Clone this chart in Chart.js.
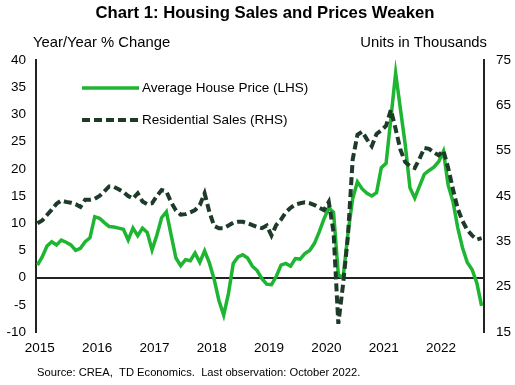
<!DOCTYPE html>
<html>
<head>
<meta charset="utf-8">
<script src="https://cdn.jsdelivr.net/npm/chart.js@4.4.0/dist/chart.umd.min.js"></script>
<style>
  body { margin: 0; background: #fff; }
  #wrap { width: 515px; height: 385px; position: relative; }
</style>
</head>
<body>
<div id="wrap"><canvas id="chart"></canvas></div>
<script>
// monthly, Jan 2015 .. Oct 2022
const years = ["2015", "2016", "2017", "2018", "2019", "2020", "2021", "2022"];

// Average house price, y/y % change (LHS)
const price = [
  2.3, 3.8, 5.8, 6.6, 6.0, 6.9, 6.5, 6.0, 5.0, 5.4, 6.6, 7.3,
  11.2, 10.9, 10.1, 9.4, 9.3, 9.1, 8.9, 6.9, 9.1, 7.7, 9.1, 8.3,
  5.1, 7.8, 11.0, 12.1, 7.8, 3.6, 2.2, 3.3, 3.1, 4.5, 2.8, 4.9,
  2.7, -0.3, -4.2, -6.9, -2.9, 2.6, 3.8, 4.2, 3.6, 2.1, 1.3, -0.2,
  -1.2, -1.3, 0.2, 2.3, 2.6, 2.1, 3.5, 3.4, 4.4, 5.0, 6.3, 8.4,
  10.8, 12.8, 12.0, 0.5, 0.0, 8.0, 14.5, 17.6, 16.3, 15.5, 15.0, 15.6,
  20.2, 21.0, 29.2, 37.6, 31.0, 24.5, 16.5, 14.6, 16.8, 19.0, 19.7, 20.3,
  21.3, 23.2, 17.0, 14.0, 9.2, 5.5, 2.8, 1.5, -1.0, -5.2
];

// Residential sales, thousands of units (RHS)
const sales = [
  39.0, 39.6, 40.8, 42.0, 43.3, 44.0, 43.7, 43.5, 43.2, 42.6, 44.2, 44.2,
  44.4, 45.0, 46.0, 47.1, 47.0, 46.5, 45.9, 45.0, 44.4, 45.6, 43.8, 43.2,
  43.4, 45.0, 46.3, 46.0, 43.6, 41.8, 40.9, 41.0, 41.4, 41.9, 43.0, 45.6,
  41.5, 38.4, 37.9, 37.9, 38.5, 39.1, 39.3, 39.3, 39.0, 38.6, 38.2, 37.9,
  38.5, 36.3, 38.6, 39.8, 41.4, 42.4, 43.1, 43.4, 43.6, 43.4, 43.0, 42.4,
  41.9, 43.7, 37.0, 16.8, 25.6, 36.0, 53.0, 58.5, 59.2, 57.5, 56.0, 58.7,
  59.5, 60.5, 64.0, 59.8, 55.2, 52.5, 51.6, 51.2, 53.2, 55.6, 55.4, 54.6,
  54.0, 55.0, 51.2, 46.5, 42.2, 39.5, 37.5, 36.3, 35.4, 35.7
];

const GREEN = "#1DB531";
const DARK = "#1E3B2A";
const FONT = "'Liberation Sans', Arial, sans-serif";
const tickFont = { family: FONT, size: 13.5 };

// title, axis captions, legend and source line
const decor = {
  id: "decor",
  afterDraw(chart) {
    const ctx = chart.ctx;
    ctx.save();
    ctx.fillStyle = "#000";
    ctx.textBaseline = "middle";

    ctx.font = "bold 16.7px " + FONT;
    ctx.textAlign = "center";
    ctx.fillText("Chart 1: Housing Sales and Prices Weaken", 265, 13);

    ctx.font = "14.8px " + FONT;
    ctx.textAlign = "left";
    ctx.fillText("Year/Year % Change", 33, 43);
    ctx.textAlign = "right";
    ctx.fillText("Units in Thousands", 487, 43);

    const ds = chart.data.datasets;
    const rows = [88, 120];
    ctx.font = "13.5px " + FONT;
    ctx.textAlign = "left";
    ds.forEach((d, i) => {
      ctx.save();
      ctx.strokeStyle = d.borderColor;
      ctx.lineWidth = d.borderWidth;
      ctx.setLineDash(d.borderDash || []);
      ctx.beginPath();
      ctx.moveTo(82, rows[i]);
      ctx.lineTo(139, rows[i]);
      ctx.stroke();
      ctx.restore();
      ctx.fillText(d.label, 142, rows[i]);
    });

    ctx.font = "11.2px " + FONT;
    ctx.fillText("Source: CREA,  TD Economics.  Last observation: October 2022.", 37, 373);
    ctx.restore();
  }
};

new Chart(document.getElementById("chart"), {
  type: "line",
  data: {
    datasets: [
      {
        label: "Average House Price (LHS)",
        data: price.map((v, i) => ({ x: i, y: v })),
        yAxisID: "y",
        borderColor: GREEN,
        borderWidth: 3.5,
        pointRadius: 0,
        order: 2
      },
      {
        label: "Residential Sales (RHS)",
        data: sales.map((v, i) => ({ x: i, y: v })),
        yAxisID: "y2",
        borderColor: DARK,
        borderWidth: 4,
        borderDash: [8, 4],
        pointRadius: 0,
        order: 1
      }
    ]
  },
  options: {
    responsive: true,
    maintainAspectRatio: false,
    animation: false,
    layout: { padding: { top: 60, left: 0, right: 0, bottom: 0 } },
    plugins: { legend: { display: false }, tooltip: { enabled: false } },
    scales: {
      x: {
        type: "linear",
        min: -0.3,
        max: 93.5,
        afterFit: s => { s.height = 53; },
        afterBuildTicks: s => { s.ticks = years.map((y, i) => ({ value: i * 12 + 0.5 })); },
        ticks: {
          callback: v => years[Math.floor(v / 12)],
          font: tickFont, color: "#000", padding: 8, maxRotation: 0, autoSkip: false
        },
        grid: { display: false, drawTicks: false },
        border: { display: false }
      },
      y: {
        position: "left",
        min: -10,
        max: 40,
        afterFit: s => { s.width = 36; },
        ticks: { stepSize: 5, padding: 10, font: tickFont, color: "#000" },
        grid: {
          color: c => (c.tick && c.tick.value === 0 ? "#222" : "transparent"),
          lineWidth: 2,
          drawTicks: false
        },
        border: { color: "#222", width: 2 }
      },
      y2: {
        position: "right",
        min: 15,
        max: 75,
        afterFit: s => { s.width = 31; },
        ticks: { stepSize: 10, padding: 12, font: tickFont, color: "#000" },
        grid: { drawOnChartArea: false, drawTicks: false },
        border: { color: "#222", width: 2 }
      }
    }
  },
  plugins: [decor]
});
</script>
</body>
</html>
